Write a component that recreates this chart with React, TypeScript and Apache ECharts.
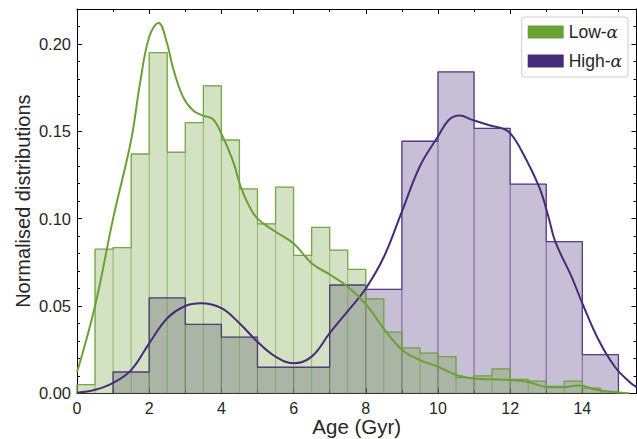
import React, { useEffect, useRef } from "react";
import * as echarts from "echarts";

// Histogram bins
const lowBinStart = 0;
const lowBinWidth = 0.5;
const lowHist = [
  0.005, 0.0825, 0.0834, 0.137, 0.195, 0.138, 0.155, 0.176, 0.145, 0.117,
  0.097, 0.118, 0.079, 0.095, 0.082, 0.071, 0.054, 0.035, 0.026, 0.023,
  0.021, 0.009, 0.010, 0.014, 0.008, 0.007, 0.004, 0.007, 0.003, 0.001,
];
const highBinStart = 1;
const highBinWidth = 1;
const highHist = [
  0.0122, 0.0546, 0.0395, 0.0322, 0.0149, 0.0149, 0.062, 0.0595, 0.1443,
  0.184, 0.1517, 0.1197, 0.0868, 0.0221,
];

// KDE curves
const lowKdeX = [
  0, 0.5, 1, 1.5, 1.75, 2, 2.26, 2.5, 2.65, 2.93, 3.21, 3.49, 3.76, 3.99, 4.31,
  4.54, 4.75, 5, 5.5, 6, 6.5, 7, 7.5, 8, 8.5, 9, 9.5, 10, 10.5, 11, 11.5, 12,
  12.5, 13, 13.4, 13.9, 14.4, 14.9, 15.3,
];
const lowKdeY = [
  0.012, 0.05, 0.1, 0.145, 0.178, 0.204, 0.212, 0.2, 0.187, 0.17, 0.162,
  0.159, 0.157, 0.149, 0.1336, 0.118, 0.108, 0.1, 0.0925, 0.0858, 0.0745,
  0.068, 0.061, 0.051, 0.037, 0.025, 0.019, 0.0152, 0.0105, 0.0085, 0.008,
  0.0076, 0.0065, 0.0036, 0.0034, 0.0044, 0.002, 0.0006, 0.0,
];
const highKdeX = [
  0, 0.5, 1, 1.5, 2, 2.5, 3, 3.44, 4, 4.5, 5, 5.5, 6, 6.5, 7, 7.5, 8, 8.5, 9,
  9.5, 10, 10.3, 10.6, 10.95, 11.4, 11.8, 12, 12.3, 12.8, 13.06, 13.25, 13.7,
  14, 14.45, 14.9, 15.3, 15.5,
];
const highKdeY = [
  0.0003, 0.002, 0.006, 0.0133, 0.0286, 0.043, 0.05, 0.0515, 0.0487, 0.0401,
  0.0295, 0.021, 0.0172, 0.021, 0.0344, 0.047, 0.06, 0.078, 0.104, 0.13,
  0.147, 0.1565, 0.159, 0.1565, 0.1536, 0.1515, 0.1489, 0.1395, 0.1183,
  0.1011, 0.0868, 0.0668, 0.0515, 0.0305, 0.0152, 0.0066, 0.0035,
];

const seriesNames = ["Low-α", "High-α"];
const xTicks = [0, 2, 4, 6, 8, 10, 12, 14];

const GREEN = "#6ba037";
const PURPLE = "#462c78";
const FONT = "Liberation Sans, Arial, sans-serif";

function binsData(start: number, width: number, heights: number[]) {
  return heights.map((h, i) => [start + i * width, start + (i + 1) * width, h]);
}

function outlineData(start: number, width: number, heights: number[]) {
  const pts: number[][] = [[start, 0]];
  heights.forEach((h, i) => pts.push([start + i * width, h]));
  const end = start + heights.length * width;
  pts.push([end, heights[heights.length - 1]]);
  pts.push([end, 0]);
  return pts;
}

function histSeries(name: string, data: number[][], fill: string, stroke: string) {
  return {
    name,
    type: "custom",
    xAxisIndex: 0,
    yAxisIndex: 0,
    encode: { x: [0, 1], y: 2 },
    data,
    renderItem: (params: any, api: any) => {
      const x0 = api.value(0);
      const x1 = api.value(1);
      const h = api.value(2);
      const p0 = api.coord([x0, h]);
      const p1 = api.coord([x1, 0]);
      return {
        type: "rect",
        shape: { x: p0[0], y: p0[1], width: p1[0] - p0[0], height: p1[1] - p0[1] },
        style: { fill, stroke, lineWidth: 1 },
      };
    },
    z: 2,
  };
}

export default function App() {
  const ref = useRef<HTMLDivElement>(null);
  useEffect(() => {
    if (!ref.current) return;
    const chart = echarts.init(ref.current, null, { renderer: "svg" });
    const axisCommon = {
      type: "value",
      axisLine: { show: true, onZero: false, lineStyle: { color: "#000", width: 1 } },
      splitLine: { show: false },
    };
    const option: any = {
      animation: false,
      grid: { left: 77, right: 0.5, top: 9, bottom: 45.7, containLabel: false, outerBoundsMode: "none" },
      legend: {
        orient: "vertical",
        right: 9,
        top: 17,
        itemWidth: 36,
        itemHeight: 13,
        itemGap: 11,
        icon: "rect",
        padding: [6, 6, 7, 6],
        borderColor: "#cccccc",
        borderWidth: 1,
        borderRadius: 3,
        backgroundColor: "#ffffff",
        data: [
          { name: seriesNames[0], itemStyle: { color: GREEN } },
          { name: seriesNames[1], itemStyle: { color: PURPLE } },
        ],
        formatter: (n: string) => n.replace("α", "{a|α}"),
        textStyle: {
          fontFamily: FONT,
          fontSize: 17.5,
          color: "#262626",
          rich: {
            a: { fontFamily: "DejaVu Serif", fontStyle: "italic", fontSize: 17, color: "#262626" },
          },
        },
      },
      xAxis: [
        {
          ...axisCommon,
          min: 0,
          max: 15.5,
          interval: 2,
          position: "bottom",
          name: "Age (Gyr)",
          nameLocation: "middle",
          nameGap: 23,
          nameMoveOverlap: false,
          nameTextStyle: { fontFamily: FONT, fontSize: 20.5, color: "#262626" },
          axisTick: { show: true, inside: true, length: 5, lineStyle: { color: "#000" } },
          minorTick: { show: true, splitNumber: 2, length: 3, lineStyle: { color: "#000" } },
          axisLabel: {
            margin: 7,
            fontFamily: FONT,
            fontSize: 16,
            color: "#262626",
            showMaxLabel: false,
            formatter: (v: number) => (xTicks.indexOf(v) >= 0 ? String(v) : ""),
          },
        },
        {
          ...axisCommon,
          min: 0,
          max: 15.5,
          interval: 2,
          position: "top",
          axisTick: { show: true, inside: true, length: 5, lineStyle: { color: "#000" } },
          minorTick: { show: true, splitNumber: 2, length: 3, lineStyle: { color: "#000" } },
          axisLabel: { show: false },
        },
      ],
      yAxis: [
        {
          ...axisCommon,
          min: 0,
          max: 0.22,
          interval: 0.05,
          position: "left",
          name: "Normalised distributions",
          nameLocation: "middle",
          nameGap: 44,
          nameMoveOverlap: false,
          nameTextStyle: { fontFamily: FONT, fontSize: 20, color: "#262626" },
          axisTick: { show: true, inside: true, length: 5, lineStyle: { color: "#000" } },
          minorTick: { show: true, splitNumber: 5, length: 3, lineStyle: { color: "#000" } },
          axisLabel: {
            margin: 6,
            fontFamily: FONT,
            fontSize: 16.5,
            color: "#262626",
            showMaxLabel: false,
            formatter: (v: number) => (v > 0.215 ? "" : v.toFixed(2)),
          },
        },
        {
          ...axisCommon,
          min: 0,
          max: 0.22,
          interval: 0.05,
          position: "right",
          axisTick: { show: true, inside: true, length: 5, lineStyle: { color: "#000" } },
          minorTick: { show: true, splitNumber: 5, length: 3, lineStyle: { color: "#000" } },
          axisLabel: { show: false },
        },
      ],
      series: [
        histSeries(
          "high-hist",
          binsData(highBinStart, highBinWidth, highHist),
          "rgba(70,44,120,0.3)",
          "rgba(70,44,120,0.35)"
        ),
        {
          name: "high-outline",
          type: "line",
          step: "end",
          symbol: "none",
          data: outlineData(highBinStart, highBinWidth, highHist),
          lineStyle: { color: "rgba(70,44,120,0.85)", width: 1.3 },
          z: 3,
        },
        histSeries(
          "low-hist",
          binsData(lowBinStart, lowBinWidth, lowHist),
          "rgba(107,160,55,0.3)",
          "rgba(107,160,55,0.35)"
        ),
        {
          name: "low-outline",
          type: "line",
          step: "end",
          symbol: "none",
          data: outlineData(lowBinStart, lowBinWidth, lowHist),
          lineStyle: { color: "rgba(107,160,55,0.85)", width: 1.3 },
          z: 4,
        },
        {
          name: seriesNames[1],
          type: "line",
          smooth: 0.4,
          symbol: "none",
          color: PURPLE,
          data: highKdeX.map((x, i) => [x, highKdeY[i]]),
          lineStyle: { color: PURPLE, width: 2 },
          z: 5,
        },
        {
          name: seriesNames[0],
          type: "line",
          smooth: 0.4,
          symbol: "none",
          color: GREEN,
          data: lowKdeX.map((x, i) => [x, lowKdeY[i]]),
          lineStyle: { color: GREEN, width: 2 },
          z: 6,
        },
      ],
    };
    chart.setOption(option);
    return () => chart.dispose();
  }, []);
  return <div ref={ref} style={{ width: 637, height: 439, position: "absolute", left: 0, top: 0 }} />;
}
